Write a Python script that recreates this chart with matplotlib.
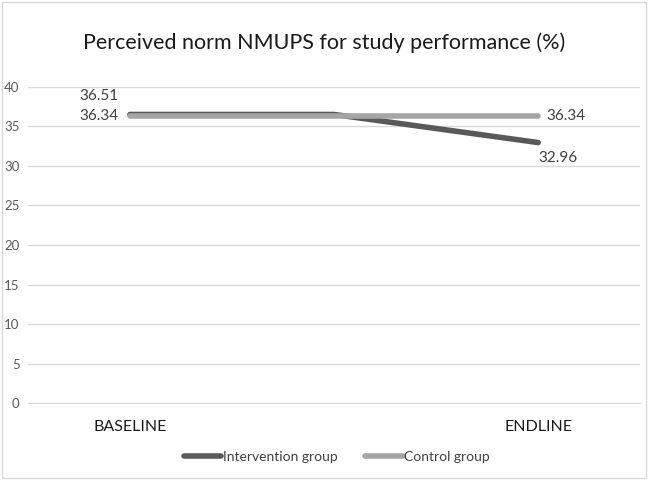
import matplotlib
matplotlib.use("Agg")
import matplotlib.pyplot as plt
from matplotlib.patches import Rectangle

categories = ["BASELINE", "", "ENDLINE"]
intervention = [36.51, 36.51, 32.96]
control = [36.34, 36.34, 36.34]
series_names = ["Intervention group", "Control group"]
yticks = [0, 5, 10, 15, 20, 25, 30, 35, 40]

plt.rcParams['font.family'] = ['Lato', 'DejaVu Sans']

fig = plt.figure(figsize=(6.48, 4.80), dpi=100)
fig.patches.append(Rectangle((0.003, 0.004), 0.994, 0.992, transform=fig.transFigure,
                             fill=False, edgecolor='#d9d9d9', linewidth=1.0))
ax = fig.add_axes([0.043, 0.160, 0.945, 0.659])

x = list(range(len(categories)))
ax.plot(x, intervention, color='#595959', linewidth=4, solid_capstyle='round',
        solid_joinstyle='round', label=series_names[0], zorder=3)
ax.plot(x, control, color='#a5a5a5', linewidth=4, solid_capstyle='round',
        label=series_names[1], zorder=4)

lab_kw = dict(fontsize=11, color='#404040')
ax.annotate(f"{intervention[0]:.2f}", (x[0], intervention[0]), xytext=(-8, 8),
            textcoords='offset points', ha='right', va='bottom', **lab_kw)
ax.annotate(f"{control[0]:.2f}", (x[0], control[0]), xytext=(-8, 0),
            textcoords='offset points', ha='right', va='center', **lab_kw)
ax.annotate(f"{control[-1]:.2f}", (x[-1], control[-1]), xytext=(6, 0),
            textcoords='offset points', ha='left', va='center', **lab_kw)
ax.annotate(f"{intervention[-1]:.2f}", (x[-1], intervention[-1]), xytext=(0, -6),
            textcoords='offset points', ha='left', va='top', **lab_kw)

ax.set_ylim(0, 40)
ax.set_xlim(-0.5, len(categories) - 0.5)
ax.set_yticks(yticks)
ax.set_yticklabels([str(v) for v in yticks], fontsize=9.5, color='#595959')
ax.yaxis.grid(True, color='#d9d9d9', linewidth=1)
ax.set_axisbelow(True)
ax.tick_params(axis='y', length=0, pad=6)
ax.tick_params(axis='x', length=0, pad=12)
for s in ax.spines.values():
    s.set_visible(False)
ax.spines['bottom'].set_visible(True)
ax.spines['bottom'].set_color('#d9d9d9')
ax.set_xticks(x)
ax.set_xticklabels(categories, fontsize=11.5, color='#1a1a1a')

fig.text(0.5, 0.91, "Perceived norm NMUPS for study performance (%)", ha='center',
         va='center', fontsize=15.5, color='#1a1a1a')

fig.legend(loc='center', bbox_to_anchor=(0.52, 0.048), ncol=2, frameon=False,
           fontsize=10, handlelength=2.7, handletextpad=0.1, columnspacing=2.0,
           labelcolor='#404040')

fig.savefig("out.png", dpi=100)
